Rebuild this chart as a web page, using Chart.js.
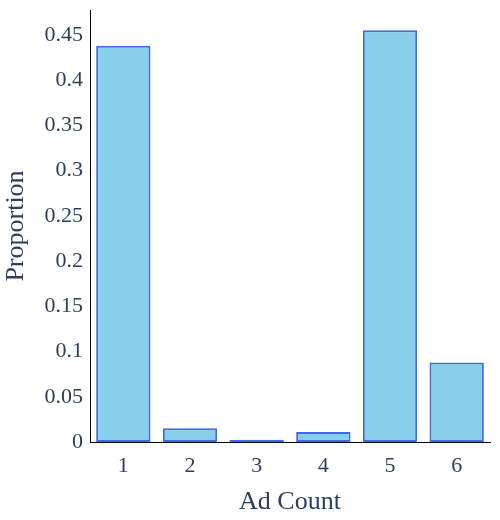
<!DOCTYPE html>
<html>
<head>
<meta charset="utf-8">
<script src="https://cdn.jsdelivr.net/npm/chart.js@4.4.1/dist/chart.umd.min.js"></script>
<style>
  html, body { margin: 0; padding: 0; background: #fff; }
  #wrap { width: 500px; height: 520px; position: relative; }
</style>
</head>
<body>
<div id="wrap"><canvas id="c" width="500" height="520"></canvas></div>
<script>
const categories = ["1", "2", "3", "4", "5", "6"];
const proportions = [0.438, 0.0152, 0.0025, 0.011, 0.455, 0.088];
const yTicks = [0, 0.05, 0.1, 0.15, 0.2, 0.25, 0.3, 0.35, 0.4, 0.45];
const yMax = 0.4775;
const xTitle = "Ad Count";
const yTitle = "Proportion";

const textColor = '#2a3f5f';
const fontFamily = '"Liberation Serif", "Times New Roman", serif';

new Chart(document.getElementById('c'), {
  type: 'bar',
  data: {
    labels: categories,
    datasets: [{
      data: proportions,
      backgroundColor: '#87CEEB',
      borderColor: '#4169E1',
      borderWidth: 2,
      borderSkipped: false,
      categoryPercentage: 0.815,
      barPercentage: 1.0
    }]
  },
  options: {
    responsive: false,
    animation: false,
    devicePixelRatio: 1,
    layout: { padding: { top: 10, right: 10, left: 0, bottom: 0 } },
    plugins: { legend: { display: false }, tooltip: { enabled: false } },
    events: [],
    scales: {
      x: {
        grid: { display: false, drawTicks: false, tickLength: 0 },
        border: { display: true, color: '#000', width: 1 },
        ticks: { color: textColor, font: { family: fontFamily, size: 22 }, padding: 11 },
        title: { display: true, text: xTitle, color: textColor,
                 font: { family: fontFamily, size: 26 }, padding: { top: 0, bottom: 2 } },
        afterFit: (s) => { s.height = 78; s.paddingLeft = 0; s.paddingRight = 0; }
      },
      y: {
        min: 0,
        max: yMax,
        grid: { display: false, drawTicks: false, tickLength: 0 },
        border: { display: true, color: '#000', width: 1 },
        afterBuildTicks: (s) => { s.ticks = yTicks.map(v => ({ value: v })); },
        ticks: {
          color: textColor,
          font: { family: fontFamily, size: 22 },
          padding: 7,
          callback: (v) => String(Number(Number(v).toFixed(2)))
        },
        title: { display: true, text: yTitle, color: textColor,
                 font: { family: fontFamily, size: 26 }, padding: { top: 1, bottom: 0 } },
        afterFit: (s) => { s.width = 90; s.paddingTop = 0; s.paddingBottom = 0; }
      }
    }
  }
});
</script>
</body>
</html>
